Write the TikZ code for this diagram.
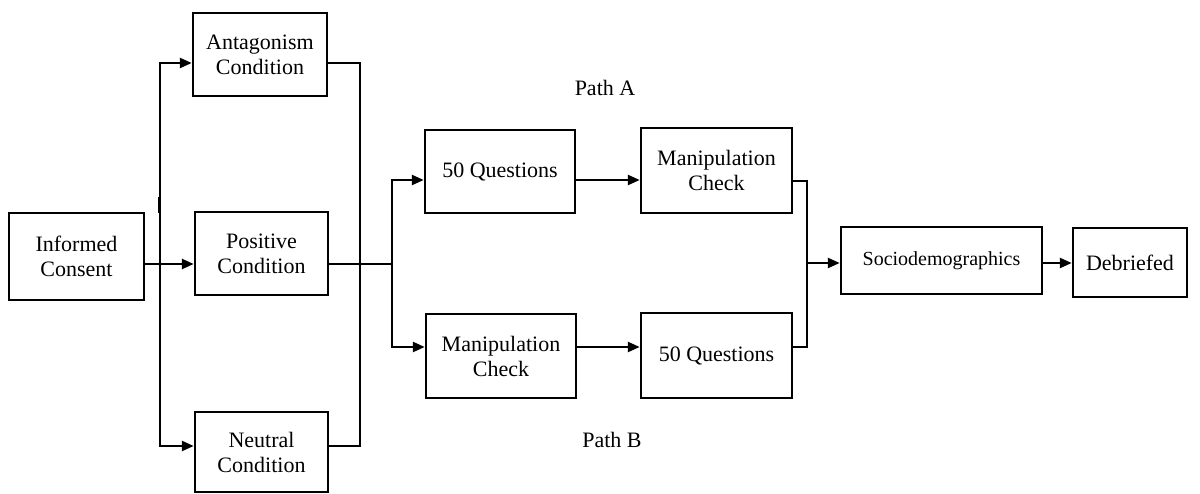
\documentclass[tikz,border=0pt]{standalone}
\usepackage{fontspec}
\setmainfont{Liberation Serif}
\usetikzlibrary{arrows.meta,calc}
\begin{document}
\begin{tikzpicture}[x=1pt,y=-1pt,
  box/.style={draw,line width=2.5pt,rectangle,inner sep=0pt,align=center,font=\fontsize{22}{25}\selectfont},
  conn/.style={line width=2.5pt},
  arr/.style={line width=2.5pt,-{Triangle[length=12pt,width=10pt]}},
  lbl/.style={font=\fontsize{22}{25}\selectfont}]
\useasboundingbox (0,0) rectangle (1200,494);
\node[box,minimum width=135pt,minimum height=87pt] (ic) at (76.5,256.5) {Informed\\Consent};
\node[box,minimum width=134pt,minimum height=83pt] (ant) at (260,54.5) {Antagonism\\Condition};
\node[box,minimum width=133pt,minimum height=83pt] (pos) at (261.5,253.5) {Positive\\Condition};
\node[box,minimum width=133pt,minimum height=80pt] (neu) at (261.5,452) {Neutral\\Condition};
\node[box,minimum width=150pt,minimum height=83pt] (qa) at (500,171.5) {50 Questions};
\node[box,minimum width=151pt,minimum height=85pt] (ma) at (716.5,170.5) {Manipulation\\Check};
\node[box,minimum width=150pt,minimum height=84pt] (mb) at (501,356) {Manipulation\\Check};
\node[box,minimum width=151pt,minimum height=85pt] (qb) at (716.5,355.5) {50 Questions};
\node[box,minimum width=201pt,minimum height=67pt,font=\fontsize{20}{24}\selectfont] (soc) at (941.5,260.5) {Sociodemographics};
\node[box,minimum width=114pt,minimum height=69pt] (deb) at (1130,262.5) {Debriefed};
\node[lbl] (pa) at (605,88) {Path A};
\node[lbl] (pb) at (612,440) {Path B};
% left junction
\coordinate (l0) at (160,264);
\coordinate (lt) at (160,63);
\coordinate (lb) at (160,446);
\draw[conn] (ic.east |- l0) -- (l0);
\draw[arr] (l0) -- (pos.west |- l0);
\draw[arr] (l0) -- (lt) -- (ant.west |- lt);
\draw[arr] (l0) -- (lb) -- (neu.west |- lb);
\draw[line width=3.5pt] (159.5,197) -- (159.5,213);
% right junction of conditions
\coordinate (r0) at (360,264);
\coordinate (rt) at (360,63);
\coordinate (rb) at (360,446);
\draw[conn] (ant.east |- rt) -- (rt) -- (rb) -- (neu.east |- rb);
\coordinate (s0) at (392,264);
\draw[conn] (pos.east |- s0) -- (s0);
\coordinate (sa) at (392,180);
\coordinate (sb) at (392,347);
\draw[arr] (s0) -- (sa) -- (qa.west |- sa);
\draw[arr] (s0) -- (sb) -- (mb.west |- sb);
\draw[arr] (qa.east |- sa) -- (ma.west |- sa);
\draw[arr] (mb.east |- sb) -- (qb.west |- sb);
% merge
\coordinate (m0) at (807,263);
\coordinate (ma1) at (807,181);
\coordinate (mb1) at (807,347);
\draw[conn] (ma.east |- ma1) -- (ma1) -- (mb1) -- (qb.east |- mb1);
\draw[arr] (m0) -- (soc.west |- m0);
\draw[arr] (soc.east |- m0) -- (deb.west |- m0);
\end{tikzpicture}
\end{document}
